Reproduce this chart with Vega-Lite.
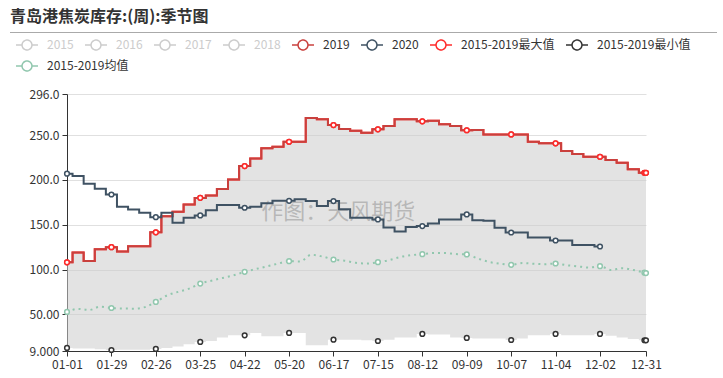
{
  "$schema": "https://vega.github.io/schema/vega-lite/v6.json",
  "padding": {"left": 10, "top": 9, "right": 0, "bottom": 0},
  "background": "#ffffff",
  "spacing": 55,
  "title": {"text": "青岛港焦炭库存:(周):季节图", "anchor": "start", "fontSize": 16, "fontWeight": "bold", "color": "#333333", "offset": 7, "font": "Noto Sans CJK SC", "frame": "group"},
  "resolve": {"scale": {"color": "shared", "stroke": "shared"}, "legend": {"color": "shared", "stroke": "shared"}},
  "config": {
    "font": "Noto Sans CJK SC",
    "view": {"stroke": null},
    "axis": {"labelFont": "Noto Sans CJK SC", "labelFontSize": 12, "labelColor": "#333333", "domainColor": "#333333", "tickColor": "#333333", "tickSize": 5},
    "legend": {
      "orient": "none",
      "direction": "horizontal",
      "title": null,
      "padding": 0,
      "symbolType": "M-1,0H-0.45M0.45,0H1M-0.45,0A0.45,0.45,0,1,1,0.45,0A0.45,0.45,0,1,1,-0.45,0",
      "symbolSize": 484,
      "symbolStrokeWidth": 1.5,
      "symbolFillColor": "#ffffff",
      "labelFont": "Noto Sans CJK SC",
      "labelFontSize": 12,
      "labelColor": "#333333",
      "labelOffset": 8,
      "columnPadding": 8,
      "rowPadding": 0
    }
  },
  "vconcat": [
    {
      "width": 707,
      "height": 1,
      "view": {"fill": "#aaaaaa", "stroke": null},
      "data": {"values": []},
      "mark": "point"
    },
    {
      "width": 636,
      "height": 257,
      "view": {"stroke": null},
      "data": {
        "values": [
          {"date": "2020-01-01", "2019": 108, "2020": 207, "2015-2019最大值": 108, "2015-2019最小值": 12.4, "2015-2019均值": 52.6},
          {"date": "2020-01-08", "2019": 119, "2020": 204.3, "2015-2019最大值": 119, "2015-2019最小值": 11.7, "2015-2019均值": 56},
          {"date": "2020-01-15", "2019": 109.5, "2020": 195.7, "2015-2019最大值": 109.5, "2015-2019最小值": 11.7, "2015-2019均值": 54.8},
          {"date": "2020-01-22", "2019": 122.5, "2020": 190.1, "2015-2019最大值": 122.5, "2015-2019最小值": 11, "2015-2019均值": 58.5},
          {"date": "2020-01-29", "2019": 125, "2020": 183.8, "2015-2019最大值": 125, "2015-2019最小值": 10.1, "2015-2019均值": 57},
          {"date": "2020-02-05", "2019": 120, "2020": 170, "2015-2019最大值": 120, "2015-2019最小值": 10.5, "2015-2019均值": 56.5},
          {"date": "2020-02-12", "2019": 126, "2020": 167.1, "2015-2019最大值": 126, "2015-2019最小值": 10.5, "2015-2019均值": 56.3},
          {"date": "2020-02-19", "2019": 126, "2020": 163.3, "2015-2019最大值": 126, "2015-2019最小值": 10.5, "2015-2019均值": 58},
          {"date": "2020-02-26", "2019": 141.5, "2020": 158.5, "2015-2019最大值": 141.5, "2015-2019最小值": 11.3, "2015-2019均值": 63.8},
          {"date": "2020-03-04", "2019": 159.6, "2020": 163.3, "2015-2019最大值": 159.6, "2015-2019最小值": 12.4, "2015-2019均值": 71},
          {"date": "2020-03-11", "2019": 164.4, "2020": 152.1, "2015-2019最大值": 164.4, "2015-2019最小值": 14, "2015-2019均值": 75},
          {"date": "2020-03-18", "2019": 172.6, "2020": 157.8, "2015-2019最大值": 172.6, "2015-2019最小值": 16.5, "2015-2019均值": 78.6},
          {"date": "2020-03-25", "2019": 180, "2020": 160.4, "2015-2019最大值": 180, "2015-2019最小值": 19.1, "2015-2019均值": 84.3},
          {"date": "2020-04-01", "2019": 182.7, "2020": 166.3, "2015-2019最大值": 182.7, "2015-2019最小值": 20.2, "2015-2019均值": 87.5},
          {"date": "2020-04-08", "2019": 189.8, "2020": 172, "2015-2019最大值": 189.8, "2015-2019最小值": 24, "2015-2019均值": 90.5},
          {"date": "2020-04-15", "2019": 200.6, "2020": 172, "2015-2019最大值": 200.6, "2015-2019最小值": 26.5, "2015-2019均值": 93.5},
          {"date": "2020-04-22", "2019": 215.5, "2020": 169, "2015-2019最大值": 215.5, "2015-2019最小值": 26.5, "2015-2019均值": 97.4},
          {"date": "2020-04-29", "2019": 224.1, "2020": 170, "2015-2019最大值": 224.1, "2015-2019最小值": 29.2, "2015-2019均值": 100.5},
          {"date": "2020-05-06", "2019": 235.3, "2020": 174, "2015-2019最大值": 235.3, "2015-2019最小值": 25.4, "2015-2019均值": 103.5},
          {"date": "2020-05-13", "2019": 237.1, "2020": 176.7, "2015-2019最大值": 237.1, "2015-2019最小值": 25.4, "2015-2019均值": 106.5},
          {"date": "2020-05-20", "2019": 242.7, "2020": 176.7, "2015-2019最大值": 242.7, "2015-2019最小值": 29.2, "2015-2019均值": 109.3},
          {"date": "2020-05-27", "2019": 242.7, "2020": 178.6, "2015-2019最大值": 242.7, "2015-2019最小值": 29.2, "2015-2019均值": 109},
          {"date": "2020-06-03", "2019": 269.2, "2020": 176.4, "2015-2019最大值": 269.2, "2015-2019最小值": 15.4, "2015-2019均值": 116.5},
          {"date": "2020-06-10", "2019": 267.7, "2020": 170.8, "2015-2019最大值": 267.7, "2015-2019最小值": 15.4, "2015-2019均值": 114.5},
          {"date": "2020-06-17", "2019": 261.3, "2020": 176.4, "2015-2019最大值": 261.3, "2015-2019最小值": 21.7, "2015-2019均值": 111.2},
          {"date": "2020-06-24", "2019": 256.9, "2020": 167.4, "2015-2019最大值": 256.9, "2015-2019最小值": 21.7, "2015-2019均值": 109.8},
          {"date": "2020-07-01", "2019": 255, "2020": 157.7, "2015-2019最大值": 255, "2015-2019最小值": 21.7, "2015-2019均值": 107.5},
          {"date": "2020-07-08", "2019": 252.8, "2020": 157.7, "2015-2019最大值": 252.8, "2015-2019最小值": 21, "2015-2019均值": 106.7},
          {"date": "2020-07-15", "2019": 256.5, "2020": 155.9, "2015-2019最大值": 256.5, "2015-2019最小值": 20.2, "2015-2019均值": 108.2},
          {"date": "2020-07-22", "2019": 260.2, "2020": 147, "2015-2019最大值": 260.2, "2015-2019最小值": 21.7, "2015-2019均值": 110.4},
          {"date": "2020-07-29", "2019": 267.7, "2020": 142.5, "2015-2019最大值": 267.7, "2015-2019最小值": 24, "2015-2019均值": 114},
          {"date": "2020-08-05", "2019": 267.7, "2020": 147.6, "2015-2019最大值": 267.7, "2015-2019最小值": 24, "2015-2019均值": 116},
          {"date": "2020-08-12", "2019": 265.5, "2020": 148.5, "2015-2019最大值": 265.5, "2015-2019最小值": 28.1, "2015-2019均值": 117.1},
          {"date": "2020-08-19", "2019": 266.2, "2020": 151.4, "2015-2019最大值": 266.2, "2015-2019最小值": 27.3, "2015-2019均值": 118.4},
          {"date": "2020-08-26", "2019": 262.1, "2020": 155.9, "2015-2019最大值": 262.1, "2015-2019最小值": 27.3, "2015-2019均值": 118.4},
          {"date": "2020-09-02", "2019": 260.2, "2020": 155.9, "2015-2019最大值": 260.2, "2015-2019最小值": 24, "2015-2019均值": 117.3},
          {"date": "2020-09-09", "2019": 255.5, "2020": 161.5, "2015-2019最大值": 255.5, "2015-2019最小值": 23.6, "2015-2019均值": 116.8},
          {"date": "2020-09-16", "2019": 255.7, "2020": 155.1, "2015-2019最大值": 255.7, "2015-2019最小值": 23, "2015-2019均值": 112.3},
          {"date": "2020-09-23", "2019": 250.9, "2020": 154.4, "2015-2019最大值": 250.9, "2015-2019最小值": 23, "2015-2019均值": 108.5},
          {"date": "2020-09-30", "2019": 250.9, "2020": 146.6, "2015-2019最大值": 250.9, "2015-2019最小值": 23, "2015-2019均值": 106.5},
          {"date": "2020-10-07", "2019": 250.9, "2020": 141.3, "2015-2019最大值": 250.9, "2015-2019最小值": 21.3, "2015-2019均值": 105.2},
          {"date": "2020-10-14", "2019": 250.9, "2020": 141.3, "2015-2019最大值": 250.9, "2015-2019最小值": 23, "2015-2019均值": 107.2},
          {"date": "2020-10-21", "2019": 242.7, "2020": 135.8, "2015-2019最大值": 242.7, "2015-2019最小值": 26.5, "2015-2019均值": 106.5},
          {"date": "2020-10-28", "2019": 240.9, "2020": 135.8, "2015-2019最大值": 240.9, "2015-2019最小值": 26.5, "2015-2019均值": 105.9},
          {"date": "2020-11-04", "2019": 240.9, "2020": 132.4, "2015-2019最大值": 240.9, "2015-2019最小值": 28.1, "2015-2019均值": 106.7},
          {"date": "2020-11-11", "2019": 232.3, "2020": 132.4, "2015-2019最大值": 232.3, "2015-2019最小值": 26.5, "2015-2019均值": 104.8},
          {"date": "2020-11-18", "2019": 228.9, "2020": 127.5, "2015-2019最大值": 228.9, "2015-2019最小值": 26.5, "2015-2019均值": 103.5},
          {"date": "2020-11-25", "2019": 225.9, "2020": 127.5, "2015-2019最大值": 225.9, "2015-2019最小值": 26.5, "2015-2019均值": 102.2},
          {"date": "2020-12-02", "2019": 225.9, "2020": 125.7, "2015-2019最大值": 225.9, "2015-2019最小值": 28.1, "2015-2019均值": 103.7},
          {"date": "2020-12-09", "2019": 222.2, "2020": null, "2015-2019最大值": 222.2, "2015-2019最小值": 26, "2015-2019均值": 99.5},
          {"date": "2020-12-16", "2019": 219.2, "2020": null, "2015-2019最大值": 219.2, "2015-2019最小值": 24, "2015-2019均值": 101.5},
          {"date": "2020-12-23", "2019": 212.1, "2020": null, "2015-2019最大值": 212.1, "2015-2019最小值": 22.5, "2015-2019均值": 99.5},
          {"date": "2020-12-30", "2019": 208, "2020": null, "2015-2019最大值": 208, "2015-2019最小值": 21, "2015-2019均值": 96.5},
          {"date": "2020-12-31", "2019": 208, "2020": null, "2015-2019最大值": 208, "2015-2019最小值": 20.9, "2015-2019均值": 96}
        ],
        "format": {"parse": {"date": "date"}}
      },
      "layer": [
        {
          "mark": {"type": "area", "interpolate": "step", "color": "#cccccc", "opacity": 0.55},
          "encoding": {
            "x": {
              "field": "date",
              "type": "temporal",
              "title": null,
              "scale": {"type": "utc", "range": [57, 636], "domain": [{"year": 2020, "month": 1, "date": 1, "utc": true}, {"year": 2020, "month": 12, "date": 31, "utc": true}]},
              "axis": {
                "values": [
                  {"year": 2020, "month": 1, "date": 1, "utc": true},
                  {"year": 2020, "month": 1, "date": 29, "utc": true},
                  {"year": 2020, "month": 2, "date": 26, "utc": true},
                  {"year": 2020, "month": 3, "date": 25, "utc": true},
                  {"year": 2020, "month": 4, "date": 22, "utc": true},
                  {"year": 2020, "month": 5, "date": 20, "utc": true},
                  {"year": 2020, "month": 6, "date": 17, "utc": true},
                  {"year": 2020, "month": 7, "date": 15, "utc": true},
                  {"year": 2020, "month": 8, "date": 12, "utc": true},
                  {"year": 2020, "month": 9, "date": 9, "utc": true},
                  {"year": 2020, "month": 10, "date": 7, "utc": true},
                  {"year": 2020, "month": 11, "date": 4, "utc": true},
                  {"year": 2020, "month": 12, "date": 2, "utc": true},
                  {"year": 2020, "month": 12, "date": 31, "utc": true}
                ],
                "format": "%m-%d",
                "grid": false,
                "labelOverlap": false,
                "labelFlush": false,
                "labelPadding": 3,
                "title": null
              }
            },
            "y": {
              "field": "2015-2019最大值",
              "type": "quantitative",
              "title": null,
              "scale": {"domain": [9, 296], "nice": false, "zero": false},
              "axis": {"values": [9, 50, 100, 150, 200, 250, 296], "format": ".4r", "grid": true, "gridColor": "#e0e0e0", "offset": -57, "labelPadding": 3, "title": null}
            },
            "y2": {"field": "2015-2019最小值"}
          }
        },
        {
          "data": {"values": [{"label": "作图：天风期货"}]},
          "mark": {"type": "text", "fontSize": 22, "color": "#9a9a9a", "fillOpacity": 0.6, "align": "center", "baseline": "middle", "font": "Noto Sans CJK SC"},
          "encoding": {
            "text": {"field": "label", "type": "nominal"},
            "x": {"datum": {"year": 2020, "month": 6, "date": 20, "utc": true}, "type": "temporal"},
            "y": {"datum": 164, "type": "quantitative"}
          }
        },
        {
          "transform": [{"fold": ["2015-2019均值"], "as": ["series", "value"]}],
          "mark": {"type": "line", "interpolate": "monotone", "strokeWidth": 2, "strokeDash": [2, 4]},
          "encoding": {
            "x": {"field": "date", "type": "temporal", "title": null},
            "y": {"field": "value", "type": "quantitative", "title": null},
            "stroke": {
              "field": "series",
              "type": "nominal",
              "scale": {"domain": ["2015-2019均值"], "range": ["#91c7ae"]},
              "legend": {
                "legendX": 5,
                "legendY": 22,
                "encode": {"symbols": {"update": {"fill": {"value": "#ffffff"}, "strokeDash": {"value": [1, 0]}}}}
              }
            }
          }
        },
        {
          "transform": [{"fold": ["2015-2019最大值"], "as": ["series", "value"]}],
          "mark": {"type": "line", "interpolate": "step", "strokeWidth": 2},
          "encoding": {
            "x": {"field": "date", "type": "temporal", "title": null},
            "y": {"field": "value", "type": "quantitative", "title": null},
            "color": {
              "field": "series",
              "type": "nominal",
              "scale": {
                "domain": ["2015", "2016", "2017", "2018", "2019", "2020", "2015-2019最大值", "2015-2019最小值"],
                "range": ["#cccccc", "#cccccc", "#cccccc", "#cccccc", "#c9403d", "#3f5263", "#ff2a2a", "#333333"]
              },
              "legend": {
                "legendX": 5,
                "legendY": 1,
                "encode": {
                  "labels": {"update": {"fill": {"signal": "indexof(['2015','2016','2017','2018'], datum.label) >= 0 ? '#cccccc' : '#333333'"}}},
                  "symbols": {"update": {"fill": {"value": "#ffffff"}, "opacity": {"value": 1}, "strokeDash": {"value": [1, 0]}}}
                }
              }
            }
          }
        },
        {
          "transform": [{"fold": ["2019"], "as": ["series", "value"]}],
          "mark": {"type": "line", "interpolate": "step", "strokeWidth": 2},
          "encoding": {
            "x": {"field": "date", "type": "temporal", "title": null},
            "y": {"field": "value", "type": "quantitative", "title": null},
            "color": {"field": "series", "type": "nominal"}
          }
        },
        {
          "transform": [{"fold": ["2020"], "as": ["series", "value"]}],
          "mark": {"type": "line", "interpolate": "step", "strokeWidth": 2},
          "encoding": {
            "x": {"field": "date", "type": "temporal", "title": null},
            "y": {"field": "value", "type": "quantitative", "title": null},
            "color": {"field": "series", "type": "nominal"}
          }
        },
        {
          "transform": [
            {"fold": ["2015-2019均值"], "as": ["series", "value"]},
            {"filter": "(round((time(datum.date) - utc(2020,0,1)) / 86400000) % 28 === 0) || (utcmonth(datum.date) === 11 && utcdate(datum.date) === 31)"}
          ],
          "mark": {"type": "point", "shape": "circle", "filled": false, "fill": "#ffffff", "fillOpacity": 1, "opacity": 1, "size": 22, "strokeWidth": 1.5},
          "encoding": {
            "x": {"field": "date", "type": "temporal", "title": null},
            "y": {"field": "value", "type": "quantitative", "title": null},
            "stroke": {"field": "series", "type": "nominal"}
          }
        },
        {
          "transform": [
            {"fold": ["2015-2019最小值", "2020", "2019", "2015-2019最大值"], "as": ["series", "value"]},
            {"filter": "(round((time(datum.date) - utc(2020,0,1)) / 86400000) % 28 === 0) || (utcmonth(datum.date) === 11 && utcdate(datum.date) === 31)"}
          ],
          "mark": {"type": "point", "shape": "circle", "filled": false, "fill": "#ffffff", "fillOpacity": 1, "opacity": 1, "size": 22, "strokeWidth": 1.5},
          "encoding": {
            "x": {"field": "date", "type": "temporal", "title": null},
            "y": {"field": "value", "type": "quantitative", "title": null},
            "color": {"field": "series", "type": "nominal"}
          }
        }
      ]
    }
  ]
}
